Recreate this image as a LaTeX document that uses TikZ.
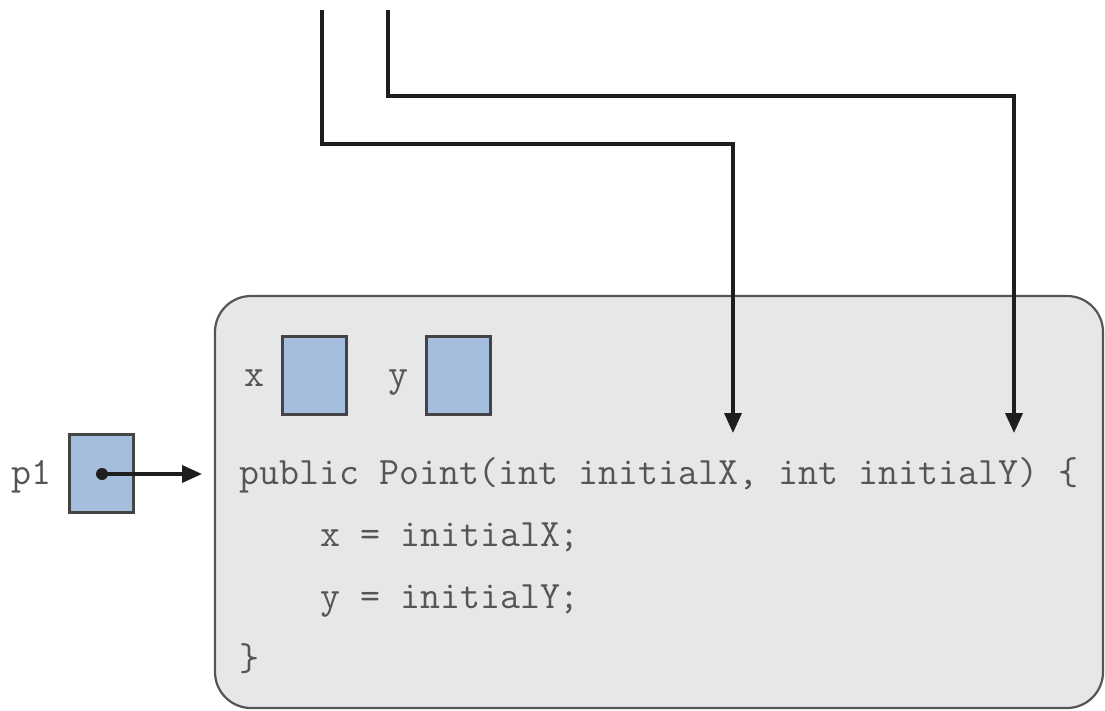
\documentclass[tikz,border=0pt]{standalone}
\usepackage{fontspec}
\usetikzlibrary{arrows.meta}
\definecolor{boxfill}{RGB}{230,231,233}
\definecolor{boxline}{RGB}{85,85,85}
\definecolor{cellblue}{RGB}{166,190,221}
\definecolor{codegray}{RGB}{85,85,85}
\definecolor{wire}{RGB}{30,30,30}
\tikzset{
  code/.style={anchor=base west, inner sep=0pt, text=codegray,
    font=\ttfamily\fontsize{38.8}{44}\selectfont},
  cell/.style={draw=boxline!80!black, line width=2.2pt, fill=cellblue, minimum width=64pt, minimum height=78pt, inner sep=0pt},
  wirearrow/.style={draw=wire, line width=3.6pt, -{Triangle[width=17pt,length=20pt]}},
}
\begin{document}
\begin{tikzpicture}[x=1pt,y=-1pt]
\useasboundingbox (0,0) rectangle (1105,711);
% main frame
\draw[draw=boxline, fill=boxfill, line width=2.2pt, rounded corners=36pt] (215,296) rectangle (1103,708);
\node (mainbox) at (659,502) {};
% cells
\node[cell] (xbox) at (314.5,375.5) {};
\node[cell] (ybox) at (458.5,375.5) {};
\node[cell] (p1box) at (101.5,473.5) {};
% labels
\node[code] (xlab) at (244,386) {x};
\node[code] (ylab) at (388,386) {y};
\node[code] (p1lab) at (11,484) {p1};
% code
\node[code] (l1) at (239,484) {public Point(int initialX, int initialY) \{};
\node[code] (l2) at (320,546) {x = initialX;};
\node[code] (l3) at (320,608) {y = initialY;};
\node[code] (l4) at (239,670) {\}};
% p1 reference
\node[circle, fill=wire, inner sep=0pt, minimum size=12pt] (p1dot) at (102,474) {};
\coordinate (p1tip) at (202,474);
\draw[wirearrow] (p1dot.center) -- (p1tip);
% incoming parameter wires
\coordinate (topX) at (322,10);
\coordinate (topY) at (388,10);
\coordinate (tipX) at (733,433);
\coordinate (tipY) at (1014,433);
\draw[wirearrow] (topX) |- (733,144) -- (tipX);
\draw[wirearrow] (topY) |- (1014,96) -- (tipY);
\end{tikzpicture}
\end{document}
